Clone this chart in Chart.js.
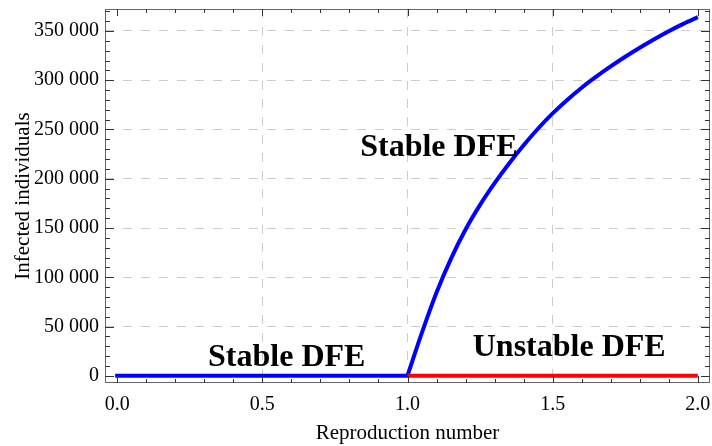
<!DOCTYPE html>
<html><head><meta charset="utf-8">
<script src="https://cdn.jsdelivr.net/npm/chart.js@4/dist/chart.umd.min.js"></script>
<style>html,body{margin:0;padding:0;background:#fff}</style>
</head><body>
<canvas id="c" width="712" height="446"></canvas>
<script>
// ---- data ----
const stableX = [0, 1];
const stableY = [0, 0];
const unstableX = [1, 2];
const unstableY = [0, 0];
const endemicX = [1.00, 1.05, 1.10, 1.15, 1.20, 1.25, 1.30, 1.35, 1.40, 1.45, 1.50,
                  1.55, 1.60, 1.65, 1.70, 1.75, 1.80, 1.85, 1.90, 1.95, 2.00];
const endemicY = [0, 44000, 84500, 119000, 148500, 173500, 195500, 215500, 234000, 251000, 266300,
                  280000, 292400, 303600, 314000, 323800, 333000, 341700, 349800, 357200, 364000];
const xTickValues = [0, 0.5, 1, 1.5, 2];
const xTickLabels = ['0.0', '0.5', '1.0', '1.5', '2.0'];
const yTickValues = [0, 50000, 100000, 150000, 200000, 250000, 300000, 350000];
const yTickLabels = ['0', '50 000', '100 000', '150 000', '200 000', '250 000', '300 000', '350 000'];
const noteTexts = ['Stable DFE', 'Unstable DFE', 'Stable DFE'];
const noteX = [0.584, 1.557, 1.108];
const noteY = [9800, 20000, 222900];

const pts = (xs, ys) => xs.map((x, i) => ({x, y: ys[i]}));
const SERIF = '"Liberation Serif", "Times New Roman", serif';

const framePlugin = {
  id: 'frameTicks',
  afterDraw(chart) {
    const {ctx, chartArea: a, scales: {x, y}} = chart;
    ctx.save();
    ctx.strokeStyle = '#666';
    ctx.lineWidth = 1;
    ctx.strokeRect(a.left + 0.5, a.top + 0.5, a.right - a.left - 1, a.bottom - a.top - 1);
    ctx.strokeStyle = '#333';
    ctx.beginPath();
    for (let k = 0; k <= 20; k++) {
      const v = k / 10;
      const len = (k % 5 === 0) ? 7 : 4;
      const px = Math.round(x.getPixelForValue(v)) + 0.5;
      ctx.moveTo(px, a.bottom); ctx.lineTo(px, a.bottom - len);
      ctx.moveTo(px, a.top); ctx.lineTo(px, a.top + len);
    }
    for (let k = 0; k <= 37; k++) {
      const v = k * 10000;
      const len = (k % 5 === 0) ? 9 : 5;
      const py = Math.round(y.getPixelForValue(v)) + 0.5;
      ctx.moveTo(a.left, py); ctx.lineTo(a.left + len, py);
      ctx.moveTo(a.right, py); ctx.lineTo(a.right - len, py);
    }
    ctx.stroke();
    ctx.restore();
  }
};

const notePlugin = {
  id: 'notes',
  afterDatasetsDraw(chart) {
    const {ctx, scales: {x, y}} = chart;
    ctx.save();
    ctx.font = 'bold 32px ' + SERIF;
    ctx.fillStyle = '#000';
    ctx.textAlign = 'center';
    ctx.textBaseline = 'alphabetic';
    noteTexts.forEach((t, i) => {
      ctx.fillText(t, x.getPixelForValue(noteX[i]), y.getPixelForValue(noteY[i]));
    });
    ctx.restore();
  }
};

new Chart(document.getElementById('c'), {
  type: 'line',
  data: {
    datasets: [
      {data: pts(unstableX, unstableY), borderColor: '#ff0000', borderWidth: 4, pointRadius: 0, borderCapStyle: 'butt'},
      {data: pts(stableX, stableY), borderColor: '#0000ff', borderWidth: 4, pointRadius: 0, borderCapStyle: 'square'},
      {data: pts(endemicX, endemicY), borderColor: '#0000ff', borderWidth: 4, pointRadius: 0, cubicInterpolationMode: 'monotone', borderCapStyle: 'butt'}
    ]
  },
  options: {
    responsive: false,
    animation: false,
    devicePixelRatio: 1,
    layout: {padding: {left: 0, right: 2, top: 9, bottom: 0}},
    plugins: {legend: {display: false}, tooltip: {enabled: false}},
    scales: {
      x: {
        type: 'linear', min: -0.042, max: 2.042,
        afterBuildTicks(s) { s.ticks = xTickValues.map(v => ({value: v})); },
        afterFit(s) { s.height = 63; s.paddingLeft = 0; s.paddingRight = 0; },
        ticks: {autoSkip: false, padding: 10, color: '#000',
                font: {family: SERIF, size: 20},
                callback: (v) => xTickLabels[xTickValues.indexOf(v)] ?? ''},
        grid: {drawTicks: false, lineWidth: 1,
               color: (c) => (c.tick && (c.tick.value === 0 || c.tick.value === 2)) ? 'rgba(0,0,0,0)' : '#cccccc'},
        border: {display: false, dash: [9, 9]},
        title: {display: true, text: 'Reproduction number', color: '#000',
                font: {family: SERIF, size: 21, lineHeight: 1}, padding: {top: 0, bottom: 2}}
      },
      y: {
        type: 'linear', min: -7300, max: 372300,
        afterBuildTicks(s) { s.ticks = yTickValues.map(v => ({value: v})); },
        afterFit(s) { s.width = 105; s.paddingTop = 0; s.paddingBottom = 0; },
        ticks: {autoSkip: false, padding: 6, color: '#000',
                font: {family: SERIF, size: 20},
                callback: (v) => yTickLabels[yTickValues.indexOf(v)] ?? ''},
        grid: {drawTicks: false, lineWidth: 1,
               color: (c) => (c.tick && c.tick.value === 0) ? 'rgba(0,0,0,0)' : '#cccccc'},
        border: {display: false, dash: [9, 9]},
        title: {display: true, text: 'Infected individuals', color: '#000',
                font: {family: SERIF, size: 21, lineHeight: 1}, padding: {top: 13, bottom: 0}}
      }
    }
  },
  plugins: [framePlugin, notePlugin]
});
</script>
</body></html>
